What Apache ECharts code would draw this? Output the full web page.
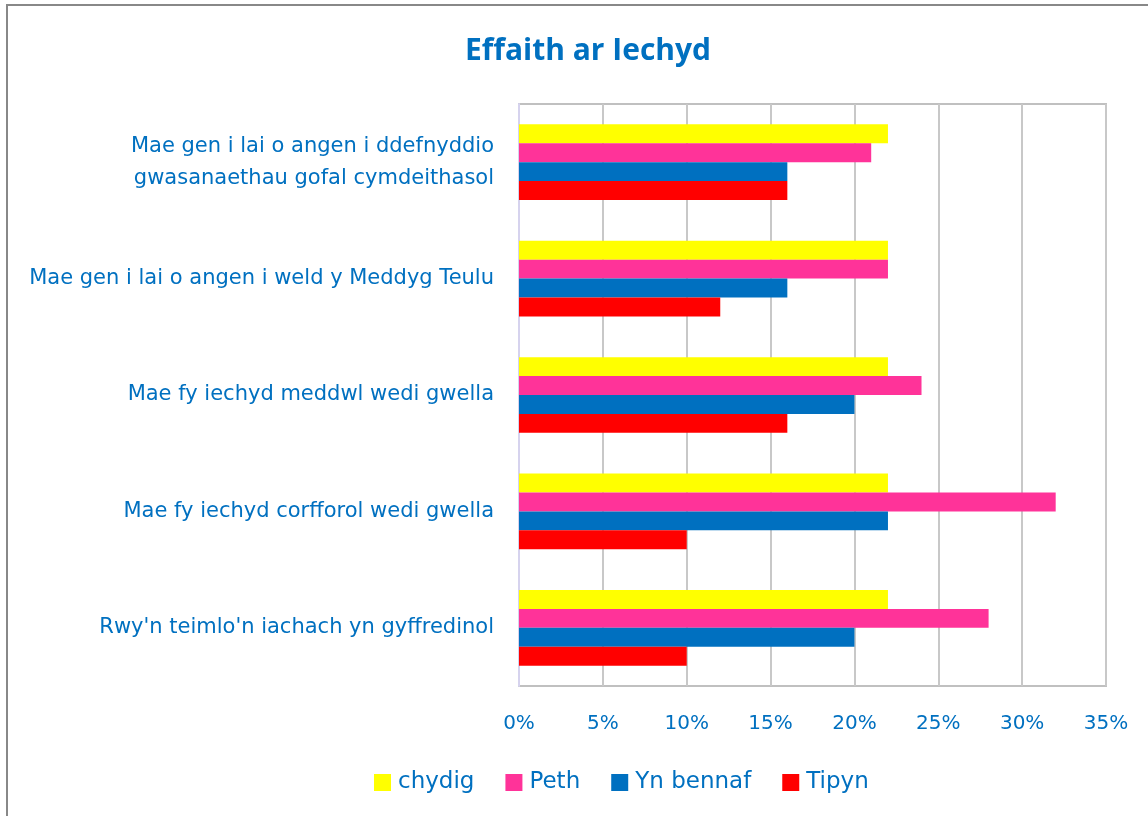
<!DOCTYPE html>
<html><head><meta charset="utf-8">
<script src="https://cdn.jsdelivr.net/npm/echarts@6/dist/echarts.min.js"></script>
<style>html,body{margin:0;padding:0;background:#fff}#c{width:1148px;height:816px}</style>
</head><body><div id="c"></div>
<script>
const categories = [
  "Mae gen i lai o angen i ddefnyddio\ngwasanaethau gofal cymdeithasol",
  "Mae gen i lai o angen i weld y Meddyg Teulu",
  "Mae fy iechyd meddwl wedi gwella",
  "Mae fy iechyd corfforol wedi gwella",
  "Rwy'n teimlo'n iachach yn gyffredinol"
];
const chydig = [22, 22, 22, 22, 22];
const peth = [21, 22, 24, 32, 28];
const ynBennaf = [16, 16, 20, 22, 20];
const tipyn = [16, 12, 16, 10, 10];
const seriesNames = ["chydig", "Peth", "Yn bennaf", "Tipyn"];
const colors = ["#FFFF00", "#FF3399", "#0070C0", "#FF0000"];

const font = "'DejaVu Sans', 'Open Sans', sans-serif";
const titleFont = "'Open Sans', 'Noto Sans', sans-serif";
const textColor = "#0070C0";
const chart = echarts.init(document.getElementById('c'));
const data = [chydig, peth, ynBennaf, tipyn];
chart.setOption({
  animation: false,
  graphic: [{type: 'rect', shape: {x: 7, y: 5, width: 1200, height: 900}, style: {fill: 'none', stroke: '#888', lineWidth: 2}, silent: true}],
  title: {text: "Effaith ar Iechyd", left: 583, top: 31, textAlign: 'center',
    textStyle: {color: textColor, fontFamily: titleFont, fontWeight: 'bold', fontSize: 30}},
  grid: {left: 519, right: 42, top: 104, bottom: 130, containLabel: false, show: true, borderColor: '#c0c0c0', borderWidth: 2},
  legend: {bottom: 17, left: 369, itemWidth: 17, itemHeight: 17, itemGap: 31, icon: 'rect',
    textStyle: {color: textColor, fontFamily: font, fontSize: 23, padding: [0, 0, 0, 2]}, data: seriesNames},
  xAxis: {type: 'value', min: 0, max: 0.35, interval: 0.05,
    axisLabel: {formatter: v => Math.round(v * 100) + '%', color: textColor, fontFamily: font, fontSize: 20, margin: 28},
    axisLine: {show: false}, axisTick: {show: false},
    splitLine: {lineStyle: {color: '#c8c8c8', width: 2}}},
  yAxis: {type: 'category', data: categories, inverse: true,
    axisLine: {show: true, lineStyle: {color: '#d6d3ee', width: 2}}, axisTick: {show: false},
    axisLabel: {color: textColor, fontFamily: font, fontSize: 21, margin: 25, lineHeight: 32, align: 'right'}},
  series: data.map((d, i) => ({
    name: seriesNames[i], type: 'bar', data: d.map(v => v / 100),
    barGap: 0, barCategoryGap: '35%', itemStyle: {color: colors[i]}
  }))
});
</script></body></html>
